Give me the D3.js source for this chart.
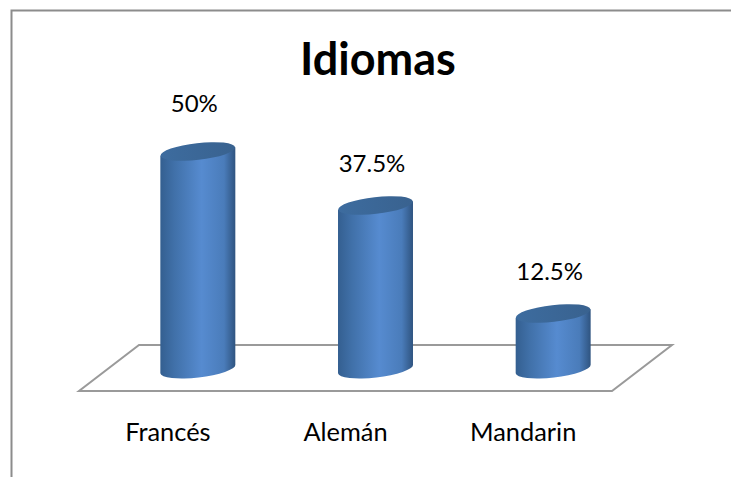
<!DOCTYPE html>
<html>
<head>
<meta charset="utf-8">
<script src="https://cdn.jsdelivr.net/npm/d3@7"></script>
<style>
  html, body { margin: 0; padding: 0; background: #fff; }
  svg { display: block; font-family: Lato, "Open Sans", sans-serif; }
</style>
</head>
<body>
<svg id="chart" width="731" height="477"></svg>
<script>
var categories = ["Francés", "Alemán", "Mandarin"];
var values = [50, 37.5, 12.5];
var valueLabels = ["50%", "37.5%", "12.5%"];
var titleText = "Idiomas";

var svg = d3.select("#chart");

var depth = {x: 60, y: 46},
    floorFrontY = 391,
    rx = 37.5, ry = 8.4, tilt = -6.5,
    baseY = 369;

// front edge of the floor, the cylinders stand half way back
var x = d3.scaleBand().domain(categories).range([79, 612]).paddingInner(0.578).paddingOuter(0.289);
var y = d3.scaleLinear().domain([0, 50]).range([367.5, 151.5]);

var defs = svg.append("defs");
var grad = defs.append("linearGradient").attr("id", "body");
grad.append("stop").attr("offset", "0%").attr("stop-color", "#345f90");
grad.append("stop").attr("offset", "18%").attr("stop-color", "#4070a8");
grad.append("stop").attr("offset", "55%").attr("stop-color", "#568bd0");
grad.append("stop").attr("offset", "85%").attr("stop-color", "#4a7cba");
grad.append("stop").attr("offset", "100%").attr("stop-color", "#2f5480");

var capGrad = defs.append("linearGradient").attr("id", "cap");
capGrad.append("stop").attr("offset", "0%").attr("stop-color", "#3d6c9f");
capGrad.append("stop").attr("offset", "100%").attr("stop-color", "#39628f");

// outer frame, open on the right and at the bottom
svg.append("path")
    .attr("d", "M11.5,477V10.5H731")
    .attr("fill", "none")
    .attr("stroke", "#8c8c8c")
    .attr("stroke-width", 2);

// floor
var x0 = x.range()[0], x1 = x.range()[1];
svg.append("path")
    .attr("d", d3.line()([
      [x0, floorFrontY], [x1, floorFrontY],
      [x1 + depth.x, floorFrontY - depth.y], [x0 + depth.x, floorFrontY - depth.y]
    ]) + "Z")
    .attr("fill", "#fff")
    .attr("stroke", "#9a9a9a")
    .attr("stroke-width", 2);

svg.append("text")
    .attr("x", 378)
    .attr("y", 75)
    .attr("text-anchor", "middle")
    .style("font-size", "45px")
    .style("font-weight", "bold")
    .attr("fill", "#000")
    .text(titleText);

var dx = depth.x / 2;
var lift = rx * Math.sin(-tilt * Math.PI / 180);

var bars = svg.selectAll(".bar")
    .data(categories)
    .enter().append("g")
    .attr("class", "bar");

bars.append("path")
    .attr("fill", "url(#body)")
    .attr("d", function(d, i) {
      var l = x(d) + dx, r = l + x.bandwidth(), top = y(values[i]);
      return "M" + l + "," + (top + lift) +
        "L" + l + "," + (baseY + lift) +
        "A" + rx + "," + ry + " " + tilt + " 0 0 " + r + "," + (baseY - lift) +
        "L" + r + "," + (top - lift) + "Z";
    });

bars.append("ellipse")
    .attr("fill", "url(#cap)")
    .attr("rx", rx)
    .attr("ry", ry)
    .attr("transform", function(d, i) {
      return "translate(" + (x(d) + dx + x.bandwidth() / 2) + "," + y(values[i]) + ") rotate(" + tilt + ")";
    });

svg.selectAll(".value")
    .data(categories)
    .enter().append("text")
    .attr("class", "value")
    .attr("x", function(d) { return x(d) + dx + x.bandwidth() / 2 - 3.5; })
    .attr("y", function(d, i) { return y(values[i]) - (i == 0 ? 40 : 34); })
    .attr("text-anchor", "middle")
    .style("font-size", "24px")
    .attr("fill", "#000")
    .text(function(d, i) { return valueLabels[i]; });

var axis = svg.append("g")
    .attr("transform", "translate(0,423)")
    .call(d3.axisBottom(x).tickSize(0).tickPadding(0));
axis.select(".domain").remove();
axis.selectAll("text")
    .style("font-size", "25.4px")
    .style("font-family", "Lato, 'Open Sans', sans-serif")
    .attr("fill", "#000");
</script>
</body>
</html>
